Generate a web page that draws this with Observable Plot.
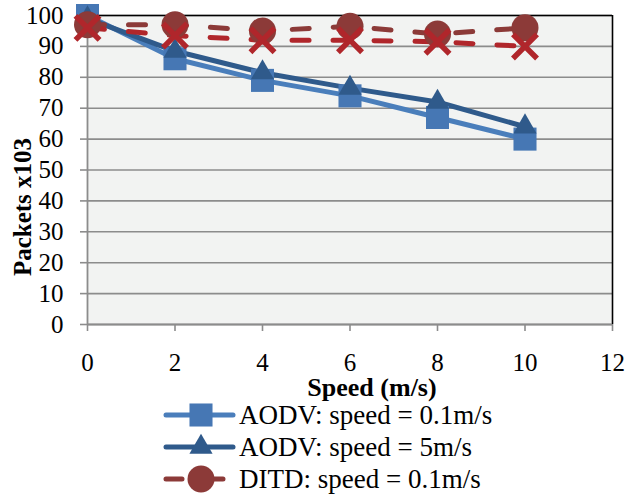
<!DOCTYPE html>
<html><head><meta charset="utf-8">
<script src="https://cdn.jsdelivr.net/npm/d3@7"></script>
<script src="https://cdn.jsdelivr.net/npm/@observablehq/plot@0.6"></script>
<style>
html,body{margin:0;padding:0;background:#fff;overflow:hidden;}
#wrap{position:relative;width:627px;height:497px;overflow:hidden;font-family:"Liberation Serif","Times New Roman",serif;}
#chart svg{font-family:"Liberation Serif","Times New Roman",serif;}
#legend{position:absolute;left:161px;top:399px;}
.row{display:flex;align-items:center;height:32px;font-size:27px;color:#000;white-space:nowrap;}
.row svg{margin-right:2px;flex:none;}
</style></head><body><div id="wrap"><div id="chart"></div><div id="legend"></div></div>
<script>
const speeds = [0, 2, 4, 6, 8, 10];
const aodvSlow = [100, 86, 79, 74, 67, 60];
const aodvFast = [99, 88.5, 81.5, 76.5, 72, 64];
const ditdSlow = [97, 97, 95, 96.5, 94, 96];
const ditdFast = [96, 93.5, 92, 92, 91.5, 90];
const seriesNames = ["AODV: speed = 0.1m/s", "AODV: speed = 5m/s", "DITD: speed = 0.1m/s", "DITD: speed = 5m/s"];
const yTicks = [0, 10, 20, 30, 40, 50, 60, 70, 80, 90, 100];
const xTicks = [0, 2, 4, 6, 8, 10, 12];
const xTitle = "Speed (m/s)";
const yTitle = "Packets x103";

const styles = [
  {name: seriesNames[0], values: aodvSlow, line: "#4a7ebb", fill: "#4677b4", symbol: "square", r: 13, dash: null},
  {name: seriesNames[1], values: aodvFast, line: "#2f5a8b", fill: "#2f5a8b", symbol: "triangle", r: 8.6, dash: null},
  {name: seriesNames[2], values: ditdSlow, line: "#8c3a38", fill: "#8c3a38", symbol: "circle", r: 13.5, dash: "17,24"},
  {name: seriesNames[3], values: ditdFast, line: "#b0262b", fill: "none", stroke: "#b0262b", symbol: "times", r: 11, dash: "17,24"}
];

const marks = [
  Plot.frame({fill: "#f2f3f2", stroke: null}),
  Plot.gridY(yTicks, {stroke: "#8c8c8c", strokeOpacity: 1, strokeWidth: 1.6}),
  Plot.ruleY([100], {stroke: "#000", strokeWidth: 1.6}),
  Plot.ruleX([12], {stroke: "#000", strokeWidth: 1.6}),
  Plot.ruleX([0], {stroke: "#8c8c8c", strokeWidth: 1.8}),
  Plot.ruleY([0], {stroke: "#8c8c8c", strokeWidth: 1.8}),
  Plot.axisY(yTicks, {tickSize: 7, tickPadding: 17, stroke: "#8c8c8c", strokeWidth: 1.6, fontSize: 25, label: null}),
  Plot.axisX(xTicks, {tickSize: 7, tickPadding: 22, stroke: "#8c8c8c", strokeWidth: 1.6, fontSize: 25, label: null}),
  Plot.text([yTitle], {frameAnchor: "left", textAnchor: "middle", lineAnchor: "middle", rotate: -90, dx: -65, dy: 37, fontSize: 25, fontWeight: "bold", fill: "#000"}),
  Plot.text([xTitle], {frameAnchor: "bottom", textAnchor: "middle", lineAnchor: "middle", dx: 22, dy: 63, fontSize: 26, fontWeight: "bold", fill: "#000"})
];

for (const s of styles) {
  const data = speeds.map((x, i) => ({x, y: s.values[i]}));
  marks.push(Plot.line(data, {x: "x", y: "y", stroke: s.line, strokeWidth: 5, strokeDasharray: s.dash, strokeLinecap: "round", strokeLinejoin: "round"}));
}
for (const s of styles) {
  const data = speeds.map((x, i) => ({x, y: s.values[i]}));
  if (s.symbol === "times") {
    marks.push(Plot.dot(data, {x: "x", y: "y", symbol: "times", r: s.r, stroke: s.stroke, strokeWidth: 5.5, fill: "none"}));
  } else {
    marks.push(Plot.dot(data, {x: "x", y: "y", symbol: s.symbol, r: s.r, fill: s.fill, stroke: null}));
  }
}

const chart = Plot.plot({
  width: 627,
  height: 396,
  marginLeft: 87,
  marginRight: 15,
  marginTop: 15,
  marginBottom: 72,
  x: {domain: [0, 12]},
  y: {domain: [0, 100]},
  style: {background: "transparent", color: "#000", overflow: "visible"},
  marks
});
document.getElementById("chart").appendChild(chart);

const legend = d3.select("#legend");
for (const s of styles) {
  const row = legend.append("div").attr("class", "row");
  const svg = row.append("svg").attr("width", 76).attr("height", 32);
  svg.append("line").attr("x1", 5).attr("x2", 72).attr("y1", 16).attr("y2", 16)
    .attr("stroke", s.line).attr("stroke-width", 5).attr("stroke-linecap", "round")
    .attr("stroke-dasharray", s.dash ? "16,25" : null);
  const sym = {square: d3.symbolSquare, triangle: d3.symbolTriangle, circle: d3.symbolCircle, times: d3.symbolTimes}[s.symbol];
  const path = svg.append("path").attr("transform", "translate(40,16)")
    .attr("d", d3.symbol(sym, Math.PI * s.r * s.r)());
  if (s.symbol === "times") path.attr("fill", "none").attr("stroke", s.stroke).attr("stroke-width", 5.5);
  else path.attr("fill", s.fill);
  row.append("span").text(s.name);
}
</script></body></html>
